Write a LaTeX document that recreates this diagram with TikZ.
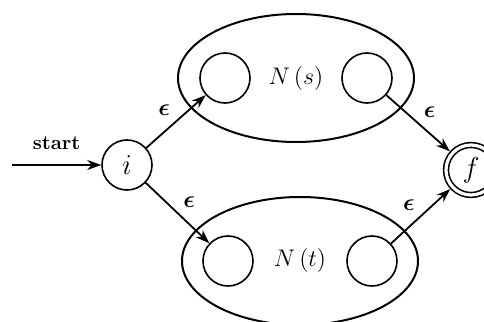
\documentclass[tikz,border=0pt]{standalone}
\usepackage{amsmath,amssymb}
\usepackage{tikz}
\usetikzlibrary{arrows.meta,positioning,shapes.geometric}
\tikzset{
  nfa/state/.style={draw, circle, line width=0.8pt, minimum size=25pt, inner sep=0pt, font=\Large},
  nfa/accept/.style={nfa/state, double, double distance=1.6pt, minimum size=25pt, outer sep=1.6pt},
  nfa/machine/.style={draw, ellipse, line width=1pt, minimum width=118pt, minimum height=64pt, inner sep=0pt, font=\large},
  nfa/edge/.style={line width=0.9pt, -{Stealth[length=7pt, width=5pt]}},
  nfa/eps/.style={font=\large\boldmath, inner sep=2.5pt} % lunate epsilon labels
}

\begin{document}
\begin{tikzpicture}[node distance=10pt and 10pt, on grid]
  \useasboundingbox (-63.5pt,-78.5pt) rectangle (178.5pt,82.5pt);
  \node[nfa/state] (i) at (0,0) {$i$};
  \node[nfa/state, above right=43.5pt and 49pt of i] (s1) {};
  \node[nfa/machine, right=35.5pt of s1] (Ns) {$N\,(s)$};
  \node[nfa/state, right=71pt of s1] (s2) {};
  \node[nfa/state, below right=48pt and 50.5pt of i] (t1) {};
  \node[nfa/machine, right=36pt of t1] (Nt) {$N\,(t)$};
  \node[nfa/state, right=72pt of t1] (t2) {};
  \node[nfa/accept, below right=2.5pt and 172pt of i] (f) {$f$};
  \coordinate[left=57.5pt of i] (entry);

  \draw[nfa/edge] (entry) -- node[above=4pt, font=\bfseries] {start} (i);
  \draw[nfa/edge] (i) -- node[nfa/eps, above left] {$\epsilon$} (s1);
  \draw[nfa/edge] (i) -- node[nfa/eps, above right] {$\epsilon$} (t1);
  \draw[nfa/edge] (s2) -- node[nfa/eps, above right] {$\epsilon$} (f);
  \draw[nfa/edge] (t2) -- node[nfa/eps, above left] {$\epsilon$} (f);
\end{tikzpicture}
\end{document}
